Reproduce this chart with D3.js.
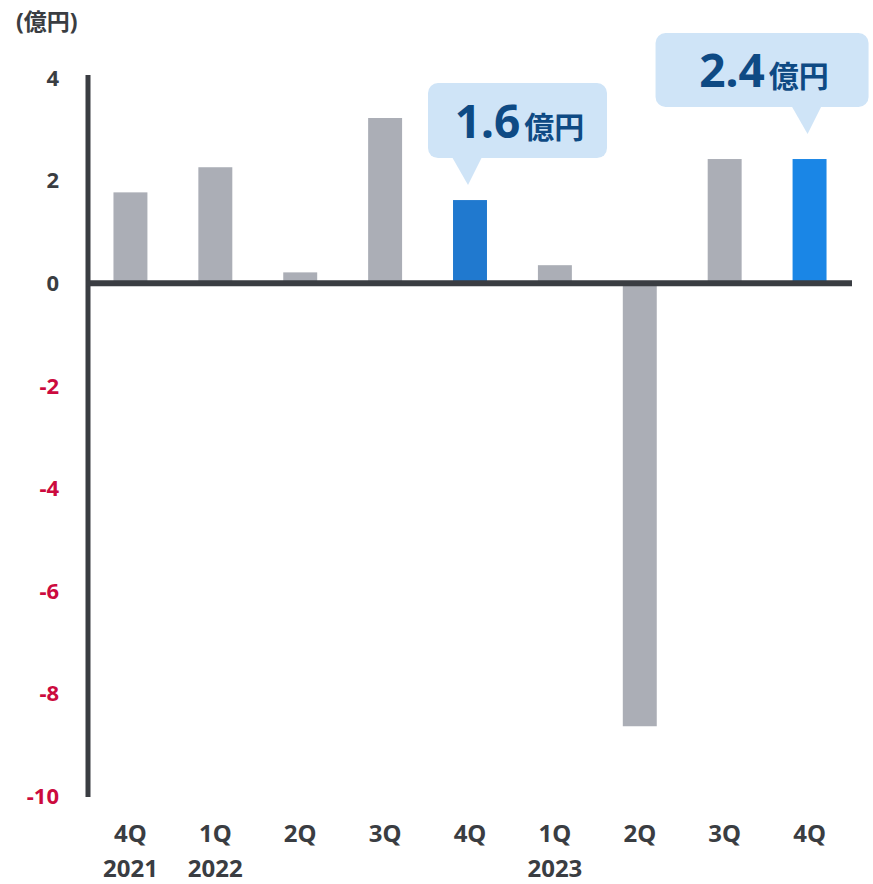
<!DOCTYPE html>
<html><head><meta charset="utf-8">
<script src="https://cdn.jsdelivr.net/npm/d3@7"></script>
<style>
html,body{margin:0;padding:0;background:#fff;}
svg{display:block;font-family:"Noto Sans","Noto Sans CJK JP",sans-serif;}
</style></head>
<body><svg id="c" width="873" height="884"></svg>
<script>
const quarters = ["4Q","1Q","2Q","3Q","4Q","1Q","2Q","3Q","4Q"];
const years    = ["2021","2022","","","","2023","","",""];
const values   = [1.77, 2.26, 0.21, 3.22, 1.62, 0.35, -8.64, 2.42, 2.42];
const highlight = [null,null,null,null,"dark",null,null,null,"bright"];
const yTicks   = [4,2,0,-2,-4,-6,-8,-10];
const callouts = [{i:4, num:"1.6", unit:"億円"}, {i:8, num:"2.4", unit:"億円"}];
const unitLabel = "(億円)";

const svg = d3.select("#c");
const y = d3.scaleLinear().domain([-10,4]).range([796,78]);
const x = d3.scaleBand().domain(d3.range(values.length)).range([88,852]).paddingInner(0.6).paddingOuter(0.3);
const colors = {null:"#abaeb6", dark:"#2079cf", bright:"#1a86e6"};

svg.append("text").attr("x",16).attr("y",30).attr("font-size",23).attr("font-weight",700)
  .attr("fill","#3a3d42").text(unitLabel);

// bars
svg.selectAll("rect.bar").data(values).enter().append("rect")
  .attr("x",(d,i)=>x(i)).attr("width",x.bandwidth())
  .attr("y",d=>y(Math.max(0,d))).attr("height",d=>Math.abs(y(d)-y(0)))
  .attr("fill",(d,i)=>colors[highlight[i]]);

// y axis line
svg.append("line").attr("x1",88).attr("x2",88).attr("y1",y(4)-3).attr("y2",y(-10)+1)
  .attr("stroke","#3a3d42").attr("stroke-width",5);
// zero line
svg.append("line").attr("x1",86).attr("x2",852).attr("y1",y(0)).attr("y2",y(0))
  .attr("stroke","#3a3d42").attr("stroke-width",6);

// y tick labels
svg.selectAll("text.yt").data(yTicks).enter().append("text")
  .attr("x",59).attr("y",d=>y(d)).attr("dy","0.36em").attr("text-anchor","end")
  .attr("font-size",22).attr("font-weight",700)
  .attr("fill",d=>d<0?"#cc0a3e":"#3a3d42").text(d=>d);

// x labels
svg.selectAll("text.q").data(quarters).enter().append("text")
  .attr("x",(d,i)=>x(i)+x.bandwidth()/2).attr("y",842).attr("text-anchor","middle")
  .attr("font-size",24).attr("font-weight",700).attr("fill","#3a3d42").text(d=>d);
svg.selectAll("text.yr").data(years).enter().append("text")
  .attr("x",(d,i)=>x(i)+x.bandwidth()/2).attr("y",877).attr("text-anchor","middle")
  .attr("font-size",24).attr("font-weight",700).attr("fill","#3a3d42").text(d=>d);

// callouts
const calloutGeom = [{left:-42, w:179, top:-117, h:75, gap:15},{left:-154, w:213, top:-124, h:74, gap:25}];
callouts.forEach((c,k)=>{
  const g = calloutGeom[k];
  const cx = x(c.i)+x.bandwidth()/2;
  const tipY = y(values[c.i]) - g.gap;
  const boxBottom = tipY - 27;
  const boxTop = boxBottom - g.h;
  const left = cx + g.left;
  svg.append("rect").attr("x",left).attr("y",boxTop).attr("width",g.w).attr("height",g.h)
    .attr("rx",10).attr("fill","#cfe4f7");
  svg.append("path").attr("d",`M${cx-18},${boxBottom-1}L${cx+12},${boxBottom-1}L${cx-2},${tipY}Z`)
    .attr("fill","#cfe4f7");
  const t = svg.append("text").attr("x",left+g.w/2+2).attr("y",boxTop+g.h/2+17)
    .attr("text-anchor","middle").attr("fill","#0e4a84").attr("font-weight",700);
  t.append("tspan").attr("font-size",46).text(c.num);
  t.append("tspan").attr("font-size",30).attr("dx",4).text(c.unit);
});
</script></body></html>
